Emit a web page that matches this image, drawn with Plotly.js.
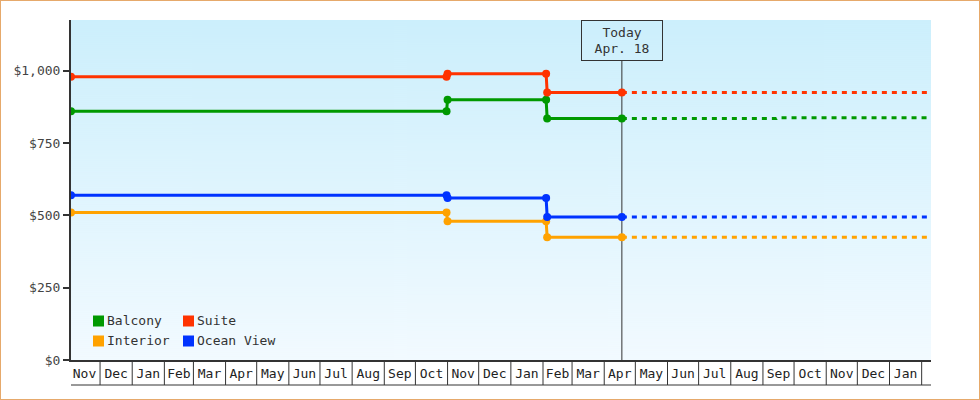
<!DOCTYPE html>
<html>
<head>
<meta charset="utf-8">
<script src="https://cdn.plot.ly/plotly-3.0.1.min.js"></script>
<style>
  html, body { margin: 0; padding: 0; background: #fff; }
  #wrap { position: relative; width: 980px; height: 400px; }
  #chart { position: absolute; left: 0; top: 0; width: 980px; height: 400px; }
  #frame { position: absolute; left: 0; top: 0; width: 980px; height: 400px; box-sizing: border-box; border: 1px solid #e6a96b; pointer-events: none; }
</style>
</head>
<body>
<div id="wrap"><div id="chart"></div><div id="frame"></div></div>
<script>
// ---- data ----
const seriesNames = ['Balcony', 'Suite', 'Interior', 'Ocean View'];
const seriesColors = ['#009900', '#ff3300', '#ffa200', '#0033ff'];

const historyDates = ['2016-11-03', '2017-10-31', '2017-11-01', '2018-02-04', '2018-02-05', '2018-04-18'];
const balcony   = [860, 860, 900, 900, 835, 835];
const suite     = [980, 980, 990, 990, 925, 925];
const interior  = [510, 510, 480, 480, 425, 425];
const oceanView = [570, 570, 560, 560, 495, 495];

const forecastDates = ['2018-04-18', '2018-09-14', '2018-09-15', '2019-02-10'];
const balconyForecast   = [835, 835, 838, 838];
const suiteForecast     = [925, 925, 925, 925];
const interiorForecast  = [425, 425, 425, 425];
const oceanViewForecast = [495, 495, 495, 495];

const todayDate = '2018-04-18';
const todayLabel = 'Today<br>Apr. 18';
const xRange = ['2016-11-03', '2019-02-10'];
const yTicks = [0, 250, 500, 750, 1000];
const yTickText = ['$0', '$250', '$500', '$750', '$1,000'];
const yMax = 1176;

// ---- layout geometry ----
const W = 980, H = 400;
const M = {l: 71, r: 49, t: 20, b: 40};
const PW = W - M.l - M.r, PH = H - M.t - M.b;
const px = x => (x - M.l) / PW;          // pixel -> paper x
const py = y => (H - M.b - y) / PH;      // pixel -> paper y

const FONT = 'DejaVu Sans Mono, monospace';
const INK = '#333333';

const history = [balcony, suite, interior, oceanView];
const forecast = [balconyForecast, suiteForecast, interiorForecast, oceanViewForecast];

const traces = [];
for (let i = 0; i < seriesNames.length; i++) {
  traces.push({
    type: 'scatter', mode: 'lines', name: seriesNames[i] + ' forecast',
    x: forecastDates, y: forecast[i], showlegend: false, hoverinfo: 'skip',
    line: {color: seriesColors[i], width: 3, dash: '5px,5px'}
  });
}
for (let i = 0; i < seriesNames.length; i++) {
  traces.push({
    type: 'scatter', mode: 'lines+markers', name: seriesNames[i],
    x: historyDates, y: history[i], showlegend: false,
    line: {color: seriesColors[i], width: 3},
    marker: {color: seriesColors[i], size: 8, symbol: 'circle'}
  });
}

// gradient background for the plot area
const cv = document.createElement('canvas');
cv.width = 4; cv.height = PH;
const ctx = cv.getContext('2d');
const g = ctx.createLinearGradient(0, 0, 0, PH);
g.addColorStop(0, 'rgb(204,239,252)');
g.addColorStop(1, 'rgb(242,250,255)');
ctx.fillStyle = g; ctx.fillRect(0, 0, 4, PH);

const shapes = [];
// month separators under the x axis
const boxBottom = py(385);
let d = new Date(Date.UTC(2016, 11, 1));
const end = new Date(xRange[1] + 'T00:00:00Z');
while (d <= end) {
  const iso = d.toISOString().slice(0, 10);
  shapes.push({type: 'line', xref: 'x', yref: 'paper', x0: iso, x1: iso, y0: 0, y1: boxBottom,
               line: {color: INK, width: 1}, layer: 'above'});
  d = new Date(Date.UTC(d.getUTCFullYear(), d.getUTCMonth() + 1, 1));
}
shapes.push({type: 'line', xref: 'paper', yref: 'paper', x0: 0, x1: 1, y0: boxBottom, y1: boxBottom,
             line: {color: INK, width: 1}});
// today marker line
shapes.push({type: 'line', xref: 'x', yref: 'paper', x0: todayDate, x1: todayDate, y0: 0, y1: py(60),
             line: {color: INK, width: 1}, layer: 'below'});

// custom legend (two rows x two columns)
const legendPos = [[93, 315.5], [183, 315.5], [93, 335.5], [183, 335.5]];
const annotations = [];
seriesNames.forEach((name, i) => {
  const [sx, sy] = legendPos[i];
  shapes.push({type: 'rect', xref: 'paper', yref: 'paper', x0: px(sx), x1: px(sx + 11), y0: py(sy + 11), y1: py(sy),
               fillcolor: seriesColors[i], line: {width: 0}});
  annotations.push({xref: 'paper', yref: 'paper', x: px(sx + 13), y: py(sy + 4.5), xanchor: 'left', yanchor: 'middle',
                    text: name, showarrow: false, borderpad: 0, font: {family: FONT, size: 13, color: INK}});
});
annotations.push({xref: 'x', yref: 'paper', x: todayDate, y: 1, xanchor: 'center', yanchor: 'top',
                  text: todayLabel, showarrow: false, bordercolor: INK, borderwidth: 1, borderpad: 2,
                  width: 76, height: 35, bgcolor: 'rgba(0,0,0,0)', font: {family: FONT, size: 13, color: INK}});

const layout = {
  width: W, height: H, margin: M,
  paper_bgcolor: '#ffffff', plot_bgcolor: 'rgb(225,245,253)',
  showlegend: false,
  font: {family: FONT, size: 13, color: INK},
  xaxis: {
    type: 'date', range: xRange, dtick: 'M1', tick0: '2016-11-01', ticklabelmode: 'period',
    tickformat: '%b', ticks: '', showgrid: false, zeroline: false,
    showline: true, linecolor: INK, linewidth: 2, ticklabelstandoff: 0,
    tickfont: {family: FONT, size: 13, color: '#222'}, fixedrange: true
  },
  yaxis: {
    range: [0, yMax], tickmode: 'array', tickvals: yTicks, ticktext: yTickText,
    ticks: 'outside', ticklen: 6, tickwidth: 2, tickcolor: INK,
    showgrid: false, zeroline: false, showline: true, linecolor: INK, linewidth: 2,
    tickfont: {family: FONT, size: 13, color: '#444'}, fixedrange: true
  },
  images: [{source: cv.toDataURL(), xref: 'paper', yref: 'paper', x: 0, y: 1, sizex: 1, sizey: 1,
            sizing: 'stretch', xanchor: 'left', yanchor: 'top', layer: 'below'}],
  shapes: shapes,
  annotations: annotations
};

Plotly.newPlot('chart', traces, layout, {displayModeBar: false, staticPlot: true});
</script>
</body>
</html>
